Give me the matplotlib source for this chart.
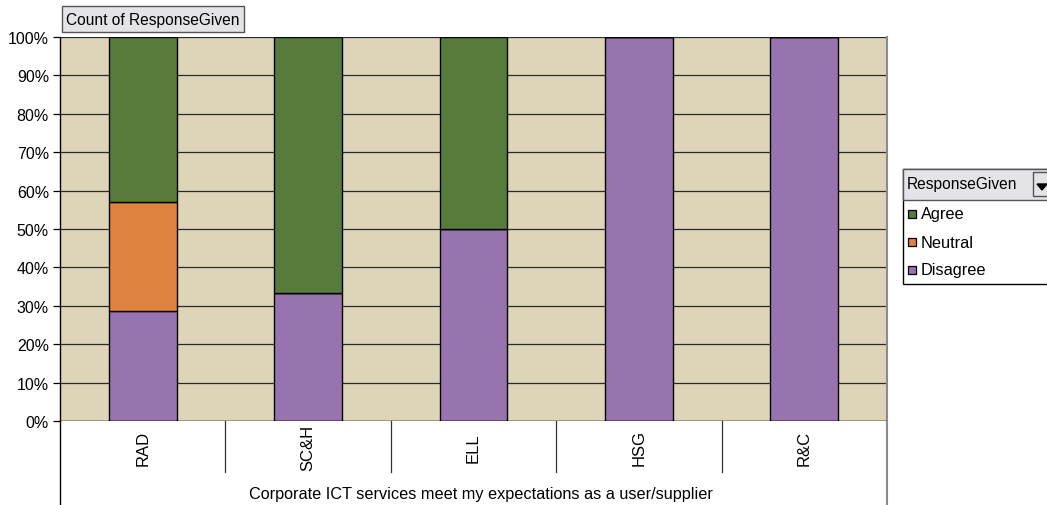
import numpy as np
import matplotlib.pyplot as plt
from matplotlib.patches import Rectangle, Polygon

plt.rcParams['font.family'] = ['Liberation Sans', 'DejaVu Sans']

# response counts per group
groups = ["RAD", "SC&H", "ELL", "HSG", "R&C"]
disagree = [2, 1, 1, 1, 1]
neutral = [2, 0, 0, 0, 0]
agree = [3, 2, 1, 0, 0]

series = [("Disagree", disagree, "#9773AF"),
          ("Neutral", neutral, "#DE833E"),
          ("Agree", agree, "#577B3B")]

totals = np.array(disagree) + np.array(neutral) + np.array(agree)

W, H = 1047, 506
fs = 11.5
fig = plt.figure(figsize=(W / 100, H / 100), dpi=100)
fig.patch.set_facecolor("white")

left, right, top, bottom = 60, 887, 38, 422
ax = fig.add_axes([left / W, (H - bottom) / H, (right - left) / W, (bottom - top) / H])
ax.set_facecolor("#DED4B8")

x = np.arange(len(groups))
base = np.zeros(len(groups))
for name, vals, col in series:
    pct = np.array(vals) / totals * 100
    ax.bar(x, pct, bottom=base, width=0.41, color=col, edgecolor="black",
           linewidth=1.0, zorder=3)
    base += pct

ax.set_xlim(-0.5, len(groups) - 0.5)
ax.set_ylim(0, 100)
ax.set_yticks(np.arange(0, 101, 10))
ax.set_yticklabels([f"{v}%" for v in range(0, 101, 10)], fontsize=fs)
ax.yaxis.grid(True, color="#2A2A2A", linewidth=0.9, zorder=1)
ax.tick_params(axis="y", length=5, width=0.9, pad=3)
ax.set_xticks([])
for s in ["top", "bottom"]:
    ax.spines[s].set_visible(False)
ax.spines["left"].set_linewidth(1.0)
ax.spines["right"].set_color("#8C8C8C")
ax.spines["right"].set_linewidth(1.5)

# category separators and labels below the plot
px = 1 / (bottom - top)
for b in np.arange(-0.5, len(groups) + 0.5, 1.0)[1:-1]:
    ax.plot([b, b], [0, -(473 - bottom) * px], transform=ax.get_xaxis_transform(),
            color="#333333", linewidth=0.9, clip_on=False)
ax.plot([-0.5, -0.5], [0, -(H - bottom) * px], transform=ax.get_xaxis_transform(),
        color="black", linewidth=1.0, clip_on=False)
ax.plot([len(groups) - 0.5] * 2, [0, -(H - bottom) * px], transform=ax.get_xaxis_transform(),
        color="#8C8C8C", linewidth=1.5, clip_on=False)
ax.axhline(0, color="black", linewidth=1.0, zorder=4)
for i, g in enumerate(groups):
    ax.text(i, -(448 - bottom) * px, g, transform=ax.get_xaxis_transform(),
            rotation=90, ha="center", va="center", fontsize=fs + 0.5)
fig.text(481 / W, 1 - 495 / H,
         "Corporate ICT services meet my expectations as a user/supplier",
         ha="center", va="center", fontsize=fs + 0.2)

# field button above the plot
fig.patches.append(Rectangle((62 / W, 1 - 33 / H), 182 / W, 26 / H, transform=fig.transFigure,
                             facecolor="#E4E4E8", edgecolor="#555555", linewidth=1.0))
fig.text(66 / W, 1 - 20 / H, "Count of ResponseGiven", ha="left", va="center", fontsize=fs - 0.3)

# legend panel
lx, ly_top, ly_bot = 903, 170, 285
fig.patches.append(Rectangle((lx / W, 1 - ly_bot / H), (W - lx + 5) / W, (ly_bot - ly_top) / H,
                             transform=fig.transFigure, facecolor="white",
                             edgecolor="black", linewidth=1.0))
fig.patches.append(Rectangle((lx / W, 1 - 201 / H), (W - lx + 5) / W, 31 / H,
                             transform=fig.transFigure, facecolor="#E4E4E8",
                             edgecolor="#555555", linewidth=1.0))
fig.text(907 / W, 1 - 185 / H, "ResponseGiven", ha="left", va="center", fontsize=fs - 0.3)
fig.patches.append(Rectangle((1033 / W, 1 - 197 / H), 20 / W, 24 / H, transform=fig.transFigure,
                             facecolor="#E4E4E8", edgecolor="#555555", linewidth=1.0))
fig.patches.append(Polygon([[1037 / W, 1 - 185 / H], [1047 / W, 1 - 185 / H],
                            [1042 / W, 1 - 191 / H]], closed=True, transform=fig.transFigure,
                           facecolor="black", edgecolor="black"))
for k, (name, vals, col) in enumerate(reversed(series)):
    yy = 215 + 28 * k
    fig.patches.append(Rectangle((908 / W, 1 - (yy + 4) / H), 8 / W, 8 / H,
                                 transform=fig.transFigure, facecolor=col,
                                 edgecolor="black", linewidth=0.9))
    fig.text(921 / W, 1 - yy / H, name, ha="left", va="center", fontsize=fs + 0.3)

fig.savefig("out.png", dpi=100)
